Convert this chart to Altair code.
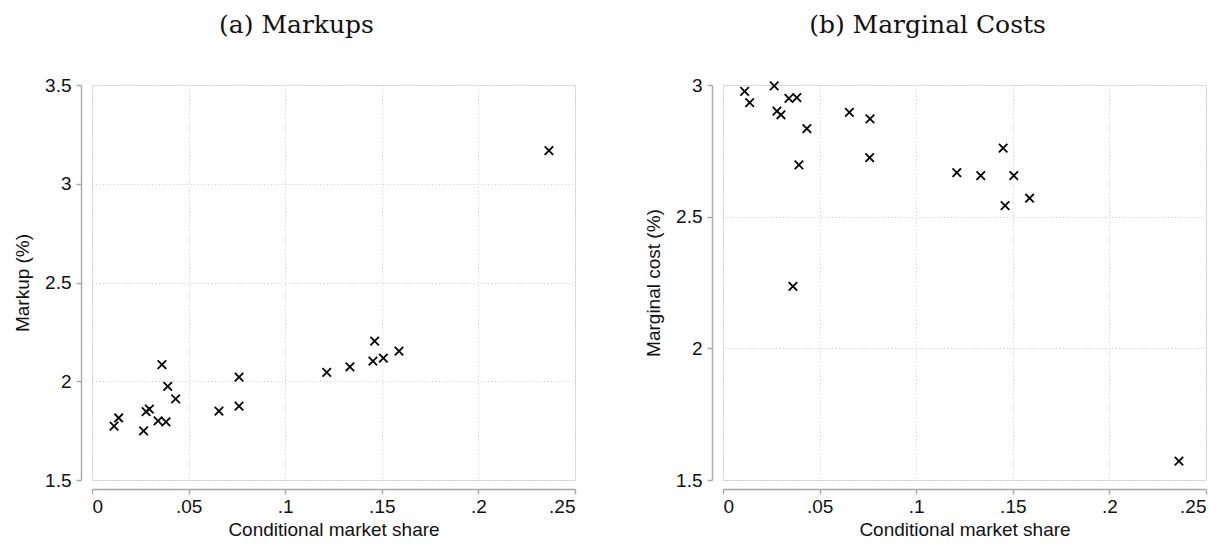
import altair as alt
import pandas as pd

markup_share = [0.0114, 0.0138, 0.0267, 0.0280, 0.0297, 0.0342, 0.0362, 0.0383, 0.0392, 0.0433,
                0.0657, 0.0761, 0.0761, 0.1215, 0.1335, 0.1454, 0.1463, 0.1508, 0.1589, 0.2365]
markup = [1.773, 1.814, 1.749, 1.846, 1.859, 1.799, 2.084, 1.794, 1.974, 1.911,
          1.849, 2.021, 1.874, 2.045, 2.073, 2.102, 2.203, 2.117, 2.153, 3.168]

mc_share = [0.0112, 0.0138, 0.0265, 0.0279, 0.0300, 0.0341, 0.0362, 0.0382, 0.0393, 0.0434,
            0.0654, 0.0761, 0.0759, 0.1210, 0.1334, 0.1450, 0.1460, 0.1505, 0.1587, 0.2360]
mc = [2.976, 2.933, 2.997, 2.901, 2.887, 2.949, 2.235, 2.952, 2.697, 2.834,
      2.896, 2.871, 2.724, 2.667, 2.656, 2.760, 2.542, 2.656, 2.570, 1.572]

x_ticks = [0, 0.05, 0.1, 0.15, 0.2, 0.25]
markup_ticks = [1.5, 2, 2.5, 3, 3.5]
mc_ticks = [1.5, 2, 2.5, 3]

df_a = pd.DataFrame({"share": markup_share, "val": markup})
df_b = pd.DataFrame({"share": mc_share, "val": mc})

CROSS = "M-1,-1L1,1M-1,1L1,-1"
FONT = "Liberation Sans"
AXCOL = "#a8a8a8"

def axis_common(**kw):
    return dict(
        domainColor=AXCOL, domainWidth=1.4, tickColor=AXCOL, tickWidth=1.4, tickSize=5,
        labelFont=FONT, labelFontSize=19, labelColor="#111111",
        titleFont=FONT, titleFontSize=19, titleColor="#111111", titleFontWeight="normal",
        gridColor="#cccccc", gridDash=[1, 2.5], gridWidth=1, grid=True,
        **kw,
    )

x_axis = alt.Axis(
    values=x_ticks, title="Conditional market share", labelPadding=3, titlePadding=4, offset=9,
    labelExpr="datum.value == 0 ? '0' : replace(format(datum.value, '.2~f'), '0.', '.')",
    **axis_common(),
)

def panel(df, title, ytitle, ydomain, yticks):
    return alt.Chart(df, title=alt.TitleParams(
        title, font="DejaVu Serif", fontSize=25, fontWeight="normal", color="#111111",
        anchor="middle", dx=-37, offset=38)).mark_point(
        shape=CROSS, size=72, filled=False, stroke="black", strokeWidth=1.8, opacity=1,
    ).encode(
        x=alt.X("share:Q", scale=alt.Scale(domain=[0, 0.25], nice=False, zero=False), axis=x_axis),
        y=alt.Y("val:Q", scale=alt.Scale(domain=ydomain, nice=False, zero=False),
                axis=alt.Axis(values=yticks, title=ytitle, format=".1~f", offset=11,
                              labelPadding=5, titlePadding=12, **axis_common())),
    ).properties(width=483, height=395)

left = panel(df_a, "(a) Markups", "Markup (%)", [1.5, 3.5], markup_ticks)
right = panel(df_b, "(b) Marginal Costs", "Marginal cost (%)", [1.5, 3.0], mc_ticks)

chart = alt.hconcat(
    left, right, spacing=148, bounds="flush",
    padding={"left": 5, "top": 4, "right": 5, "bottom": 0},
).configure_view(stroke=None).configure(background="white")

chart.save("out.html", embed_options={"renderer": "svg", "actions": False})
